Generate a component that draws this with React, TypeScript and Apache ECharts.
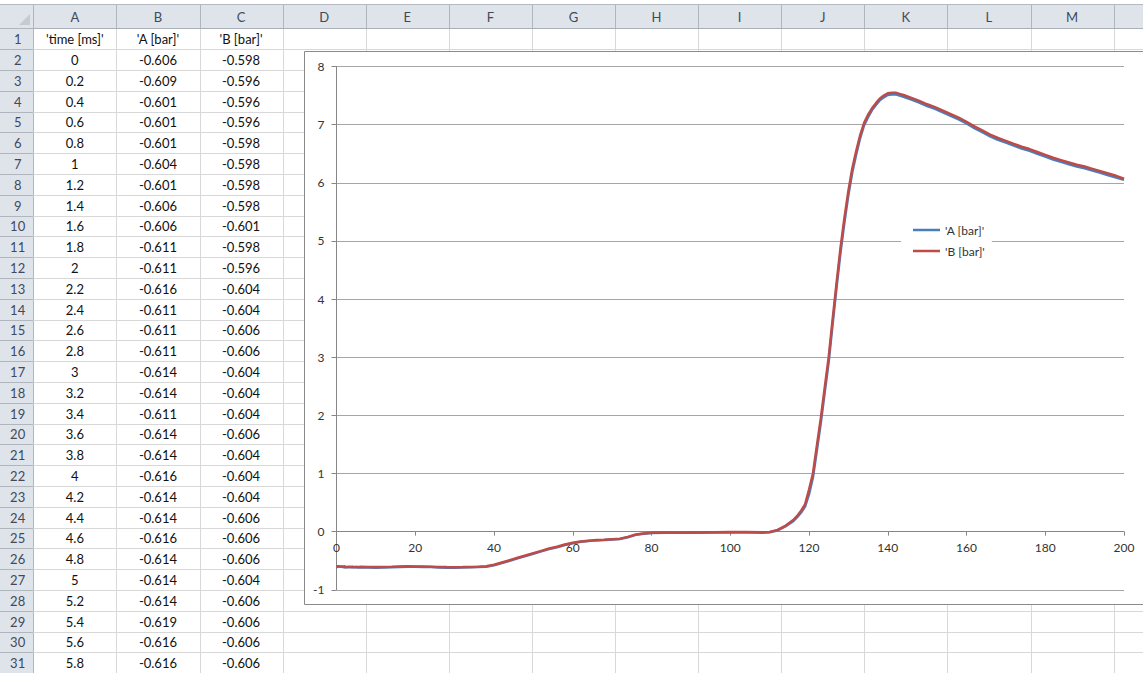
import React, { useEffect, useRef } from "react";
import * as echarts from "echarts";

// ---- data (time in ms, pressures in bar) ----
const timeMs: number[] = [
  0, 0.2, 0.4, 0.6, 0.8, 1, 1.2, 1.4, 1.6, 1.8, 2, 2.2, 2.4, 2.6, 2.8, 3, 3.2, 3.4, 3.6, 3.8,
  4, 4.2, 4.4, 4.6, 4.8, 5, 5.2, 5.4, 5.6, 5.8,
  6, 8, 10, 12, 14, 16, 18, 20, 22, 24, 26, 28, 30, 32, 34, 36, 38, 40, 42, 44, 46, 48, 50,
  52, 54, 56, 58, 60, 62, 64, 66, 68, 70, 72, 74, 76, 78, 80, 84, 88, 92, 96, 100, 104, 108,
  110, 112, 114, 116, 117, 118, 119, 120, 121, 122, 123, 124, 125, 126, 127, 128, 129, 130,
  131, 132, 133, 134, 135, 136, 137, 138, 139, 140, 141, 142, 143, 144, 146, 148, 150, 152,
  154, 156, 158, 160, 162, 164, 166, 168, 170, 172, 174, 176, 178, 180, 182, 184, 186, 188,
  190, 192, 194, 196, 198, 200,
];

const pressureA: number[] = [
  -0.606, -0.609, -0.601, -0.601, -0.601, -0.604, -0.601, -0.606, -0.606, -0.611, -0.611, -0.616,
  -0.611, -0.611, -0.611, -0.614, -0.614, -0.611, -0.614, -0.614, -0.616, -0.614, -0.614, -0.616,
  -0.614, -0.614, -0.614, -0.619, -0.616, -0.616,
  -0.615, -0.617, -0.62, -0.618, -0.613, -0.607, -0.603, -0.605, -0.607, -0.61, -0.615, -0.62,
  -0.622, -0.618, -0.614, -0.61, -0.602, -0.58, -0.54, -0.5, -0.46, -0.42, -0.38,
  -0.34, -0.3, -0.27, -0.23, -0.2, -0.175, -0.16, -0.15, -0.145, -0.135, -0.125, -0.095, -0.055,
  -0.035, -0.025, -0.02, -0.02, -0.02, -0.015, -0.015, -0.012, -0.02,
  -0.01, 0.02, 0.09, 0.18, 0.25, 0.33, 0.43, 0.64, 0.93, 1.4, 1.87, 2.4, 2.92, 3.57, 4.2, 4.8,
  5.32, 5.79, 6.18, 6.49, 6.77, 6.99, 7.13, 7.25, 7.34, 7.42, 7.47, 7.51, 7.52, 7.52, 7.5, 7.48,
  7.43, 7.38, 7.32, 7.27, 7.21, 7.15, 7.09, 7.02, 6.94, 6.87, 6.8, 6.74, 6.69, 6.64, 6.59, 6.55,
  6.5, 6.45, 6.4, 6.36, 6.32, 6.28, 6.25, 6.21, 6.17, 6.13, 6.09, 6.05,
];

const pressureB: number[] = [
  -0.598, -0.596, -0.596, -0.596, -0.598, -0.598, -0.598, -0.598, -0.601, -0.598, -0.596, -0.604,
  -0.604, -0.606, -0.606, -0.604, -0.604, -0.604, -0.606, -0.604, -0.604, -0.604, -0.606, -0.606,
  -0.606, -0.604, -0.606, -0.606, -0.606, -0.606,
  -0.605, -0.607, -0.61, -0.608, -0.605, -0.6, -0.597, -0.598, -0.6, -0.603, -0.607, -0.61,
  -0.612, -0.61, -0.607, -0.603, -0.595, -0.57, -0.53, -0.49, -0.45, -0.41, -0.37,
  -0.33, -0.29, -0.26, -0.22, -0.19, -0.17, -0.155, -0.145, -0.14, -0.13, -0.12, -0.09, -0.05,
  -0.03, -0.02, -0.015, -0.015, -0.01, -0.01, -0.005, -0.005, -0.01,
  -0.005, 0.03, 0.1, 0.2, 0.27, 0.36, 0.47, 0.72, 1.0, 1.48, 1.95, 2.48, 3.0, 3.65, 4.28, 4.88,
  5.4, 5.86, 6.25, 6.55, 6.82, 7.03, 7.17, 7.28, 7.37, 7.45, 7.5, 7.54, 7.55, 7.55, 7.53, 7.51,
  7.46, 7.41, 7.35, 7.3, 7.24, 7.18, 7.12, 7.05, 6.97, 6.9, 6.83, 6.77, 6.72, 6.67, 6.62, 6.58,
  6.53, 6.48, 6.43, 6.39, 6.35, 6.31, 6.28, 6.24, 6.2, 6.16, 6.12, 6.07,
];

const columnLetters: string[] = ["A", "B", "C", "D", "E", "F", "G", "H", "I", "J", "K", "L", "M"];
const headerCells: string[] = ["'time [ms]'", "'A [bar]'", "'B [bar]'"];
const seriesNames: string[] = ["'A [bar]'", "'B [bar]'"];
const visibleRows = 31;

const W = 1143;
const H = 673;
const FONT = "Lato, 'Noto Sans', sans-serif";

export default function App() {
  const ref = useRef<HTMLDivElement>(null);

  useEffect(() => {
    if (!ref.current) return;
    const chart = echarts.init(ref.current, undefined, { renderer: "svg" });

    const colX0 = 33.3;
    const colW = 83.1;
    const headTop = 5;
    const headBottom = 28.3;
    const rowH = 20.8;
    const px = (v: number) => Math.round(v) + 0.5;

    const gridTop = 66.5;
    const gridBottom = 83.2;
    const yMin = -1;
    const yMax = 8;
    const plotH = H - gridTop - gridBottom;
    const zeroOffset = (plotH * (0 - yMin)) / (yMax - yMin);

    const g: any[] = [];
    // header backgrounds
    g.push({ type: "rect", z: 0, z2: 0, shape: { x: 0, y: headTop, width: W, height: headBottom - headTop }, style: { fill: "#dfe4ea" } });
    g.push({ type: "rect", z: 0, z2: 0, shape: { x: 0, y: headBottom, width: colX0, height: H }, style: { fill: "#dfe4ea" } });
    g.push({ type: "line", z: 0, z2: 1, shape: { x1: 0, y1: px(headTop - 1), x2: W, y2: px(headTop - 1) }, style: { stroke: "#b4bac2", lineWidth: 1 } });
    // select-all triangle
    g.push({ type: "polygon", z: 0, z2: 2, shape: { points: [[30, 14], [30, 25], [19, 25]] }, style: { fill: "#c6cbd2" } });

    // vertical lines
    for (let i = 0; i <= columnLetters.length + 1; i++) {
      const x = px(colX0 + i * colW);
      if (x > W) break;
      g.push({ type: "line", z: 0, z2: 1, shape: { x1: x, y1: headTop, x2: x, y2: headBottom }, style: { stroke: "#b0b6be", lineWidth: 1 } });
      g.push({ type: "line", z: 0, z2: 1, shape: { x1: x, y1: headBottom, x2: x, y2: H }, style: { stroke: i === 0 ? "#b0b6be" : "#d8d8d8", lineWidth: 1 } });
    }
    // horizontal lines
    for (let r = 0; r <= visibleRows; r++) {
      const y = px(headBottom + r * rowH);
      g.push({ type: "line", z: 0, z2: 1, shape: { x1: 0, y1: y, x2: colX0, y2: y }, style: { stroke: "#b0b6be", lineWidth: 1 } });
      g.push({ type: "line", z: 0, z2: 1, shape: { x1: colX0, y1: y, x2: W, y2: y }, style: { stroke: r === 0 ? "#a9b0b9" : "#d8d8d8", lineWidth: 1 } });
    }
    // column letters
    columnLetters.forEach((c, i) => {
      g.push({
        type: "text", z: 0, z2: 3,
        x: colX0 + (i + 0.5) * colW, y: (headTop + headBottom) / 2 + 0.5,
        style: { text: c, font: `13px ${FONT}`, fill: "#3e4a5c", align: "center", verticalAlign: "middle", textAlign: "center", textVerticalAlign: "middle" },
      });
    });
    // row numbers
    for (let r = 1; r <= visibleRows; r++) {
      g.push({
        type: "text", z: 0, z2: 3,
        x: colX0 / 2 + 1, y: headBottom + (r - 0.5) * rowH + 0.5,
        style: { text: String(r), font: `13px ${FONT}`, fill: "#3e4a5c", align: "center", verticalAlign: "middle", textAlign: "center", textVerticalAlign: "middle" },
      });
    }
    // cell contents
    const cellText = (col: number, row: number, text: string) => {
      g.push({
        type: "text", z: 0, z2: 3,
        x: colX0 + (col + 0.5) * colW, y: headBottom + (row - 0.5) * rowH + 0.5,
        style: { text, font: `13px ${FONT}`, fill: "#111", align: "center", verticalAlign: "middle", textAlign: "center", textVerticalAlign: "middle" },
      });
    };
    headerCells.forEach((h, i) => cellText(i, 1, h));
    for (let r = 2; r <= visibleRows; r++) {
      const k = r - 2;
      cellText(0, r, String(timeMs[k]));
      cellText(1, r, pressureA[k].toFixed(3));
      cellText(2, r, pressureB[k].toFixed(3));
    }
    // chart frame
    g.push({
      type: "rect", z: 0, z2: 10,
      shape: { x: 304.5, y: 51.5, width: 900, height: 553 },
      style: { fill: "#ffffff", stroke: "#8a8a8a", lineWidth: 1 },
    });

    const dataA = timeMs.map((t, i) => [t, pressureA[i]]);
    const dataB = timeMs.map((t, i) => [t, pressureB[i]]);

    chart.setOption({
      animation: false,
      textStyle: { fontFamily: FONT },
      graphic: { elements: g },
      grid: { left: 336.5, right: 19, top: gridTop, bottom: gridBottom, containLabel: false, z: 2 },
      xAxis: {
        type: "value", min: 0, max: 200, interval: 20, z: 3,
        position: "bottom",
        offset: -zeroOffset,
        axisLine: { onZero: false, lineStyle: { color: "#868686", width: 1 } },
        axisTick: { show: true, inside: false, length: 4, lineStyle: { color: "#868686" } },
        axisLabel: { color: "#333", fontSize: 12, fontFamily: FONT, margin: 10 },
        splitLine: { show: false },
      },
      yAxis: {
        type: "value", min: yMin, max: yMax, interval: 1, z: 3,
        axisLine: { show: true, lineStyle: { color: "#868686", width: 1 } },
        axisTick: { show: true, inside: false, length: 5, lineStyle: { color: "#868686" } },
        axisLabel: { color: "#333", fontSize: 12, fontFamily: FONT, margin: 12 },
        splitLine: { show: true, lineStyle: { color: "#a6a6a6", width: 1 } },
      },
      legend: {
        orient: "vertical",
        left: 901, top: 219,
        z: 10,
        backgroundColor: "#ffffff",
        padding: [5, 7, 5, 12],
        itemGap: 9,
        itemWidth: 27, itemHeight: 2.5,
        icon: "rect",
        textStyle: { fontSize: 12, color: "#333", fontFamily: FONT, padding: [0, 0, 0, 0] },
        data: seriesNames,
      },
      series: [
        { name: seriesNames[0], type: "line", data: dataA, showSymbol: false, symbol: "none", z: 4, lineStyle: { color: "#4a7ebb", width: 2.5 }, itemStyle: { color: "#4a7ebb" } },
        { name: seriesNames[1], type: "line", data: dataB, showSymbol: false, symbol: "none", z: 5, lineStyle: { color: "#be4b48", width: 2.5 }, itemStyle: { color: "#be4b48" } },
      ],
    });

    return () => chart.dispose();
  }, []);

  return <div ref={ref} style={{ position: "fixed", left: 0, top: 0, width: W, height: H, background: "#fff" }} />;
}
